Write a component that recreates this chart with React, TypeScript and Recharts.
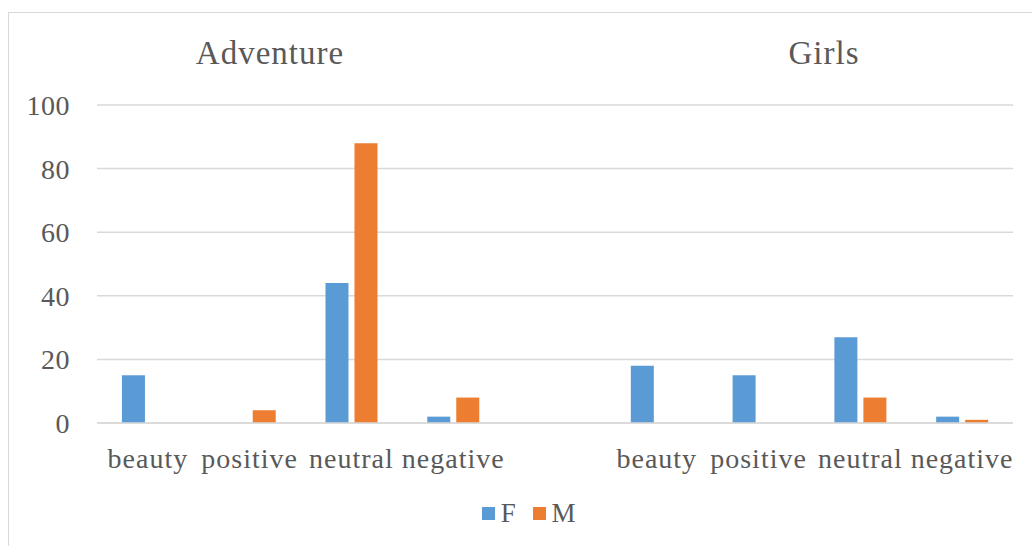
import React from "react";
import { BarChart, Bar, XAxis, YAxis, CartesianGrid, Legend } from "recharts";

const categories = ["beauty", "positive", "neutral", "negative", "", "beauty", "positive", "neutral", "negative"];
const fValues = [15, 0, 44, 2, null, 18, 15, 27, 2];
const mValues = [0, 4, 88, 8, null, 0, 0, 8, 1];
const yTicks = [0, 20, 40, 60, 80, 100];
const groupTitles = ["Adventure", "Girls"];

const data = categories.map((c, i) => ({ name: c, F: fValues[i], M: mValues[i] }));

const FONT = "'Liberation Serif', serif";
const TEXT = "#595959";

const LegendContent = (props: any) => {
  const { payload } = props;
  return (
    <div style={{ display: "flex", justifyContent: "center", alignItems: "center", fontFamily: FONT, fontSize: 27, color: TEXT, paddingLeft: 26, letterSpacing: 0.8 }}>
      {payload.map((p: any, i: number) => (
        <div key={i} style={{ display: "flex", alignItems: "center", marginRight: i === 0 ? 16 : 0 }}>
          <div style={{ width: 13, height: 13, background: p.color, marginRight: 6 }} />
          <span>{p.value}</span>
        </div>
      ))}
    </div>
  );
};

export default function App() {
  return (
    <div style={{ position: "absolute", left: 0, top: 0, width: 1032, height: 546, overflow: "hidden", background: "#fff" }}>
      <div style={{ position: "absolute", left: 8, top: 12, width: 1100, height: 700, border: "1px solid #d9d9d9", boxSizing: "border-box" }} />
      <BarChart
        width={1032}
        height={546}
        data={data}
        margin={{ top: 105, right: 19, left: 8, bottom: 84 }}
        barCategoryGap="24.5%"
        barGap={6}
      >
        <CartesianGrid vertical={false} stroke="#d9d9d9" strokeWidth={1.5} />
        <XAxis
          dataKey="name"
          interval={0}
          axisLine={{ stroke: "#d9d9d9", strokeWidth: 1.5 }}
          tickLine={false}
          tickSize={0}
          tickMargin={25}
          height={39}
          tick={{ fill: TEXT, fontSize: 28, fontFamily: FONT, letterSpacing: 1 }}
        />
        <YAxis
          domain={[0, 100]}
          ticks={yTicks}
          axisLine={false}
          tickLine={false}
          tickSize={0}
          tickMargin={27}
          width={89}
          tick={{ fill: TEXT, fontSize: 28, fontFamily: FONT, letterSpacing: 0.5 }}
        />
        <Legend
          verticalAlign="middle"
          align="center"
          content={<LegendContent />}
          wrapperStyle={{ position: "absolute", top: 498, left: 0, width: 1032 }}
        />
        <Bar dataKey="F" fill="#5b9bd5" isAnimationActive={false} />
        <Bar dataKey="M" fill="#ed7d31" isAnimationActive={false} />
      </BarChart>
      <svg style={{ position: "absolute", left: 0, top: 0, pointerEvents: "none" }} width={1032} height={546}>
        <text x={270} y={64} textAnchor="middle" fontFamily={FONT} fontSize={33} fill={TEXT} letterSpacing={1}>{groupTitles[0]}</text>
        <text x={824} y={64} textAnchor="middle" fontFamily={FONT} fontSize={33} fill={TEXT} letterSpacing={1}>{groupTitles[1]}</text>
      </svg>
    </div>
  );
}
